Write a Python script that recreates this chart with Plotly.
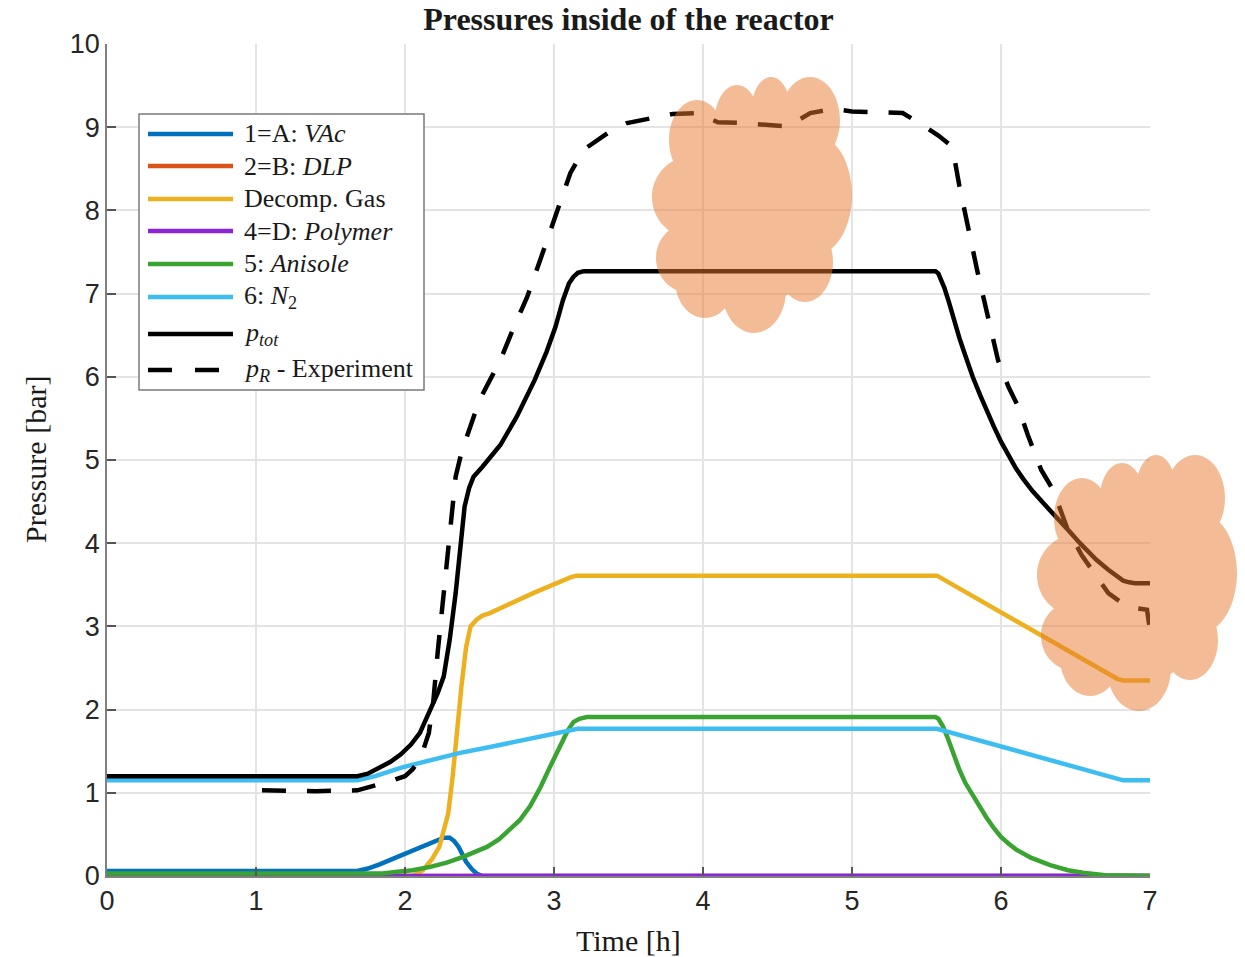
import plotly.graph_objects as go

# ---------------- data ----------------
t_vac = [0, 1.68, 1.75, 1.83, 1.95, 2.06, 2.17, 2.26, 2.30, 2.33, 2.36, 2.41, 2.45, 2.48, 2.52, 7.0]
p_vac = [0.06, 0.06, 0.09, 0.14, 0.23, 0.31, 0.39, 0.46, 0.46, 0.42, 0.35, 0.17, 0.08, 0.03, 0.0, 0.0]

t_dlp = [0, 7.0]
p_dlp = [0.0, 0.0]

t_gas = [0, 2.05, 2.12, 2.18, 2.23, 2.26, 2.29, 2.32, 2.35, 2.38, 2.41, 2.44, 2.48, 2.52, 2.57,
         2.86, 3.11, 3.15, 5.57, 6.78, 6.82, 7.0]
p_gas = [0.0, 0.0, 0.07, 0.2, 0.35, 0.55, 0.75, 1.2, 1.8, 2.3, 2.75, 3.0, 3.08, 3.13, 3.16,
         3.40, 3.59, 3.61, 3.61, 2.37, 2.35, 2.35]

t_poly = [0, 7.0]
p_poly = [0.0, 0.0]

t_anis = [0, 1.85, 1.95, 2.05, 2.17, 2.28, 2.39, 2.48, 2.55, 2.63, 2.70, 2.77, 2.84, 2.91, 2.97,
          3.04, 3.09, 3.13, 3.17, 3.22, 5.56, 5.58, 5.61, 5.64, 5.68, 5.72, 5.76, 5.81, 5.86,
          5.90, 5.95, 6.00, 6.05, 6.10, 6.20, 6.33, 6.45, 6.55, 6.70, 6.85, 7.0]
p_anis = [0.03, 0.03, 0.05, 0.07, 0.11, 0.16, 0.23, 0.29, 0.35, 0.44, 0.55, 0.67, 0.84, 1.07, 1.30,
          1.55, 1.74, 1.85, 1.89, 1.91, 1.91, 1.89, 1.80, 1.67, 1.47, 1.28, 1.12, 0.97, 0.83,
          0.71, 0.58, 0.47, 0.39, 0.32, 0.22, 0.13, 0.07, 0.04, 0.01, 0.0, 0.0]

t_n2 = [0, 1.68, 1.80, 1.97, 2.10, 2.23, 2.37, 2.57, 2.80, 3.00, 3.12, 3.16, 5.57, 6.78, 6.82, 7.0]
p_n2 = [1.15, 1.15, 1.20, 1.30, 1.36, 1.42, 1.48, 1.55, 1.64, 1.72, 1.76, 1.77, 1.77, 1.17, 1.15, 1.15]

t_tot = [0, 1.68, 1.75, 1.83, 1.90, 1.97, 2.04, 2.10, 2.17, 2.22, 2.26, 2.30, 2.34, 2.37, 2.40,
         2.43, 2.46, 2.52, 2.64, 2.75, 2.87, 2.95, 3.01, 3.06, 3.10, 3.13, 3.16, 3.20, 5.56,
         5.58, 5.60, 5.62, 5.65, 5.68, 5.72, 5.75, 5.78, 5.81, 5.86, 5.90, 5.95, 6.00, 6.05,
         6.10, 6.15, 6.21, 6.29, 6.37, 6.45, 6.53, 6.64, 6.72, 6.78, 6.82, 6.86, 6.90, 7.00]
p_tot = [1.20, 1.20, 1.23, 1.30, 1.37, 1.46, 1.58, 1.72, 2.00, 2.20, 2.40, 2.84, 3.40, 3.96, 4.44,
         4.66, 4.80, 4.92, 5.18, 5.52, 5.96, 6.30, 6.60, 6.92, 7.12, 7.20, 7.25, 7.27, 7.27,
         7.24, 7.16, 7.07, 6.90, 6.70, 6.47, 6.31, 6.15, 6.00, 5.78, 5.60, 5.41, 5.22, 5.06,
         4.90, 4.77, 4.63, 4.47, 4.32, 4.16, 4.00, 3.80, 3.68, 3.60, 3.55, 3.53, 3.52, 3.52]

t_exp = [1.04, 1.40, 1.68, 1.74, 1.82, 1.92, 2.00, 2.05, 2.09, 2.12, 2.16, 2.19, 2.22, 2.26,
         2.29, 2.31, 2.34, 2.38, 2.45, 2.50, 2.57, 2.64, 2.72, 2.82, 2.93, 3.02, 3.11, 3.20,
         3.36, 3.49, 3.67, 3.80, 3.96, 4.10, 4.26, 4.42, 4.57, 4.72, 4.87, 5.00, 5.19, 5.34,
         5.47, 5.58, 5.65, 5.69, 5.72, 5.77, 5.84, 5.91, 5.98, 6.05, 6.11, 6.18, 6.27, 6.35,
         6.44, 6.54, 6.63, 6.72, 6.83, 6.90, 6.98, 7.00]
p_exp = [1.03, 1.02, 1.03, 1.06, 1.09, 1.15, 1.20, 1.28, 1.38, 1.50, 1.72, 2.10, 2.70, 3.40,
         3.96, 4.40, 4.80, 5.10, 5.48, 5.72, 5.96, 6.20, 6.55, 6.96, 7.52, 8.00, 8.45, 8.73,
         8.93, 9.05, 9.12, 9.16, 9.17, 9.06, 9.05, 9.03, 9.01, 9.17, 9.22, 9.19, 9.18, 9.17,
         9.03, 8.90, 8.80, 8.60, 8.30, 7.85, 7.28, 6.74, 6.20, 5.88, 5.66, 5.30, 4.88, 4.64,
         4.20, 3.86, 3.64, 3.40, 3.26, 3.22, 3.20, 2.95]

x_ticks = [0, 1, 2, 3, 4, 5, 6, 7]
y_ticks = [0, 1, 2, 3, 4, 5, 6, 7, 8, 9, 10]

legend_labels = [
    "1=A: <i>VAc</i>",
    "2=B: <i>DLP</i>",
    "Decomp. Gas",
    "4=D: <i>Polymer</i>",
    "5: <i>Anisole</i>",
    "6: <i>N</i><sub>2</sub>",
    "<i>p<sub>tot</sub></i>",
    "<i>p<sub>R</sub></i> - Experiment",
]

# ---------------- styling ----------------
C_BLUE = "#0072BD"
C_RED = "#D95319"
C_YEL = "#EDB120"
C_PUR = "#8A25D8"
C_GRN = "#3AA433"
C_CYA = "#3DBDF0"
C_BLK = "#000000"
LW = 4.5

W, H = 1245, 957
L, R, T, B = 107, 95, 44, 81
PW, PH = W - L - R, H - T - B


def to_paper(px, py):
    """Convert page pixel position to paper coordinates of the plot area."""
    return (px - L) / PW, (H - B - py) / PH


# (x, y, colour, dash)
series = [
    (t_vac, p_vac, C_BLUE, "solid"),
    (t_dlp, p_dlp, C_RED, "solid"),
    (t_gas, p_gas, C_YEL, "solid"),
    (t_poly, p_poly, C_PUR, "solid"),
    (t_anis, p_anis, C_GRN, "solid"),
    (t_n2, p_n2, C_CYA, "solid"),
    (t_tot, p_tot, C_BLK, "solid"),
    (t_exp, p_exp, C_BLK, "24px,21px"),
]

fig = go.Figure()
for (tx, py_, col, dash), name in zip(series, legend_labels):
    fig.add_trace(go.Scatter(
        x=tx, y=py_, mode="lines", name=name, showlegend=False,
        line=dict(color=col, width=LW, dash=dash),
        cliponaxis=True, hoverinfo="skip",
    ))

shapes = []
annotations = []

# ---------------- hand-built legend ----------------
bx0, by0 = to_paper(139, 114)
bx1, by1 = to_paper(424, 390)
shapes.append(dict(type="rect", xref="paper", yref="paper", x0=bx0, y0=by1, x1=bx1, y1=by0,
                   line=dict(color="#7a7a7a", width=1.5), fillcolor="white", layer="above"))
legend_rows = [134, 166, 199, 231, 264, 297, 334, 370]
for (tx, py_, col, dash), label, row in zip(series, legend_labels, legend_rows):
    lx0, ly = to_paper(148, row)
    lx1, _ = to_paper(233, row)
    shapes.append(dict(type="line", xref="paper", yref="paper", x0=lx0, x1=lx1, y0=ly, y1=ly,
                       line=dict(color=col, width=LW, dash="24px,23px" if dash != "solid" else "solid"),
                       layer="above"))
    tx_, ty_ = to_paper(242, row)
    annotations.append(dict(text=label, x=tx_, y=ty_, xref="paper", yref="paper",
                            xanchor="left", yanchor="middle", showarrow=False,
                            font=dict(family="Liberation Serif", size=26, color="#1a1a1a")))

# ---------------- cloud overlays ----------------
# lobes: (dx, dy, rx, ry) in pixels, relative to the cloud's top-left corner
lobes = [
    (100, 128, 80, 100),   # body
    (38, 120, 38, 40),     # left
    (38, 181, 34, 35),     # lower left
    (53, 203, 30, 38),     # bottom left
    (102, 213, 32, 43),    # bottom
    (153, 185, 28, 40),    # bottom right
    (163, 118, 37, 60),    # right
    (158, 43, 30, 43),     # top right
    (119, 35, 20, 35),     # top
    (85, 43, 22, 35),      # top left
    (45, 63, 28, 40),      # upper left
]
K = 0.5523


def cloud_path(ox, oy):
    parts = []
    for dx, dy, rx, ry in lobes:
        cx, cy = ox + dx, oy + dy
        pts = [
            (cx + rx, cy),
            (cx + rx, cy + K * ry), (cx + K * rx, cy + ry), (cx, cy + ry),
            (cx - K * rx, cy + ry), (cx - rx, cy + K * ry), (cx - rx, cy),
            (cx - rx, cy - K * ry), (cx - K * rx, cy - ry), (cx, cy - ry),
            (cx + K * rx, cy - ry), (cx + rx, cy - K * ry), (cx + rx, cy),
        ]
        pp = [to_paper(*p) for p in pts]
        s = "M{:.5f},{:.5f}".format(*pp[0])
        for i in range(1, 13, 3):
            s += " C{:.5f},{:.5f} {:.5f},{:.5f} {:.5f},{:.5f}".format(*pp[i], *pp[i + 1], *pp[i + 2])
        parts.append(s + " Z")
    return " ".join(parts)


for ox, oy in [(652, 77), (1037, 455)]:
    shapes.append(dict(type="path", xref="paper", yref="paper", path=cloud_path(ox, oy),
                       fillcolor="rgb(232,122,45)", opacity=0.5, line=dict(width=0),
                       fillrule="nonzero", layer="above"))

# ---------------- axis titles ----------------
ax_, ay_ = to_paper(628, 940)
annotations.append(dict(text="Time [h]", x=ax_, y=ay_, xref="paper", yref="paper",
                        xanchor="center", yanchor="middle", showarrow=False,
                        font=dict(family="Liberation Serif", size=30, color="#1a1a1a")))
ax_, ay_ = to_paper(35, 460)
annotations.append(dict(text="Pressure [bar]", x=ax_, y=ay_, xref="paper", yref="paper",
                        xanchor="center", yanchor="middle", showarrow=False, textangle=-90,
                        font=dict(family="Liberation Serif", size=30, color="#1a1a1a")))

tick_font = dict(family="Liberation Sans", size=27, color="#262626")
axis_common = dict(
    showgrid=True, gridcolor="#e4e4e4", gridwidth=1.5,
    showline=True, linecolor="#808080", linewidth=1.5, mirror=False,
    ticks="inside", ticklen=9, tickwidth=1.5, tickcolor="#555555",
    zeroline=False, tickfont=tick_font,
)

fig.update_layout(
    width=W, height=H,
    margin=dict(l=L, r=R, t=T, b=B),
    paper_bgcolor="white", plot_bgcolor="white",
    title=dict(text="Pressures inside of the reactor", x=0.5, xref="paper",
               y=1 - 19 / H, yref="container", xanchor="center", yanchor="middle",
               font=dict(family="Liberation Serif", size=32, color="#1a1a1a", weight="bold")),
    xaxis=dict(range=[0, 7], tickvals=x_ticks, **axis_common),
    yaxis=dict(range=[0, 10], tickvals=y_ticks, **axis_common),
    shapes=shapes, annotations=annotations, showlegend=False,
)

fig.write_html("out.html")
